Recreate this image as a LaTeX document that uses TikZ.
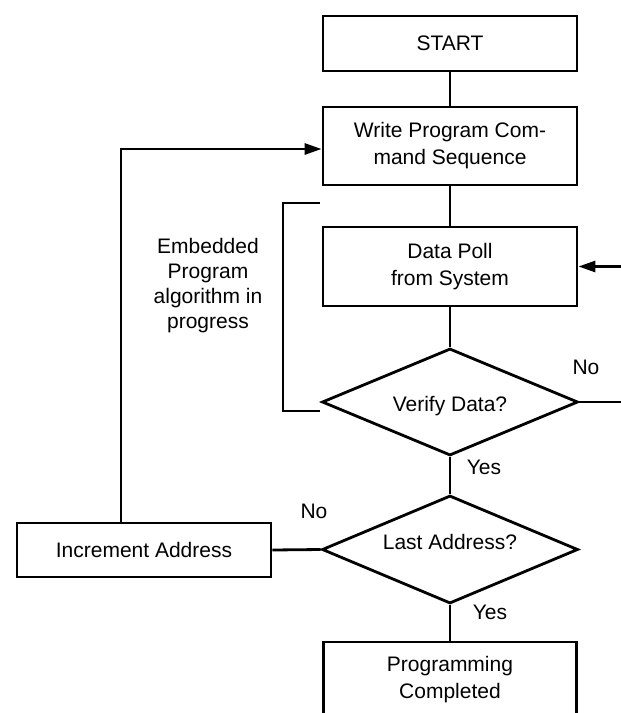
\documentclass[tikz,border=0pt]{standalone}
\usepackage{fontspec}
\setmainfont{Liberation Sans}
\usetikzlibrary{shapes.geometric, arrows.meta}
\begin{document}
\begin{tikzpicture}[x=1pt,y=-1pt,
  every node/.style={font=\fontsize{21}{27}\selectfont},
  box/.style={draw, line width=2.8pt, minimum width=254pt, inner sep=0pt, align=center},
  dia/.style={draw, diamond, line width=2.8pt, minimum width=256pt, minimum height=107pt, inner sep=0pt, shape aspect=2.4},
  conn/.style={line width=2.8pt},
  arr/.style={line width=2.8pt, -{Triangle[length=17pt,width=11pt]}},
  lbl/.style={inner sep=0pt}]
\useasboundingbox (0,0) rectangle (621,713);
\node[box, minimum height=55pt] (start) at (450,43.5) {START};
\node[box, minimum height=78pt] (write) at (450,146) {Write Program Com-\\mand Sequence};
\node[box, minimum height=79pt] (poll) at (450,266.5) {Data Poll\\from System};
\node[dia, label={[yshift=-4pt]center:Verify Data?}] (verify) at (450,402) {};
\node[dia, minimum height=108pt, label={[yshift=8pt]center:Last Address?}] (last) at (450,549.5) {};
\node[box, minimum height=54pt] (inc) at (144,550) {Increment Address};
\node[box, minimum width=253pt, minimum height=98pt, label={[align=center, yshift=11pt]center:Programming\\Completed}] (prog) at (450,691) {};
\node[align=center, font=\fontsize{21}{25}\selectfont] (emb) at (208,286) {Embedded\\Program\\algorithm in\\progress};
\node[lbl] (no1) at (586,367) {No};
\node[lbl] (yes1) at (484,467) {Yes};
\node[lbl] (no2) at (314,511) {No};
\node[lbl] (yes2) at (490,612) {Yes};
\draw[conn] (start) -- (write);
\draw[conn] (write) -- (poll);
\draw[conn] (poll) -- (verify);
\draw[conn] (verify) -- (last);
\draw[conn] (last) -- (prog);
\draw[conn] (last.west) -- (inc.east);
\draw[arr] ([xshift=-23pt]inc.north) |- ([yshift=-3pt]write.west);
\draw[arr] (verify.east) -- ++(62,0) |- (poll.east);
\draw[conn] (320,203) -| (283,411) -- (320,411);
\end{tikzpicture}
\end{document}
